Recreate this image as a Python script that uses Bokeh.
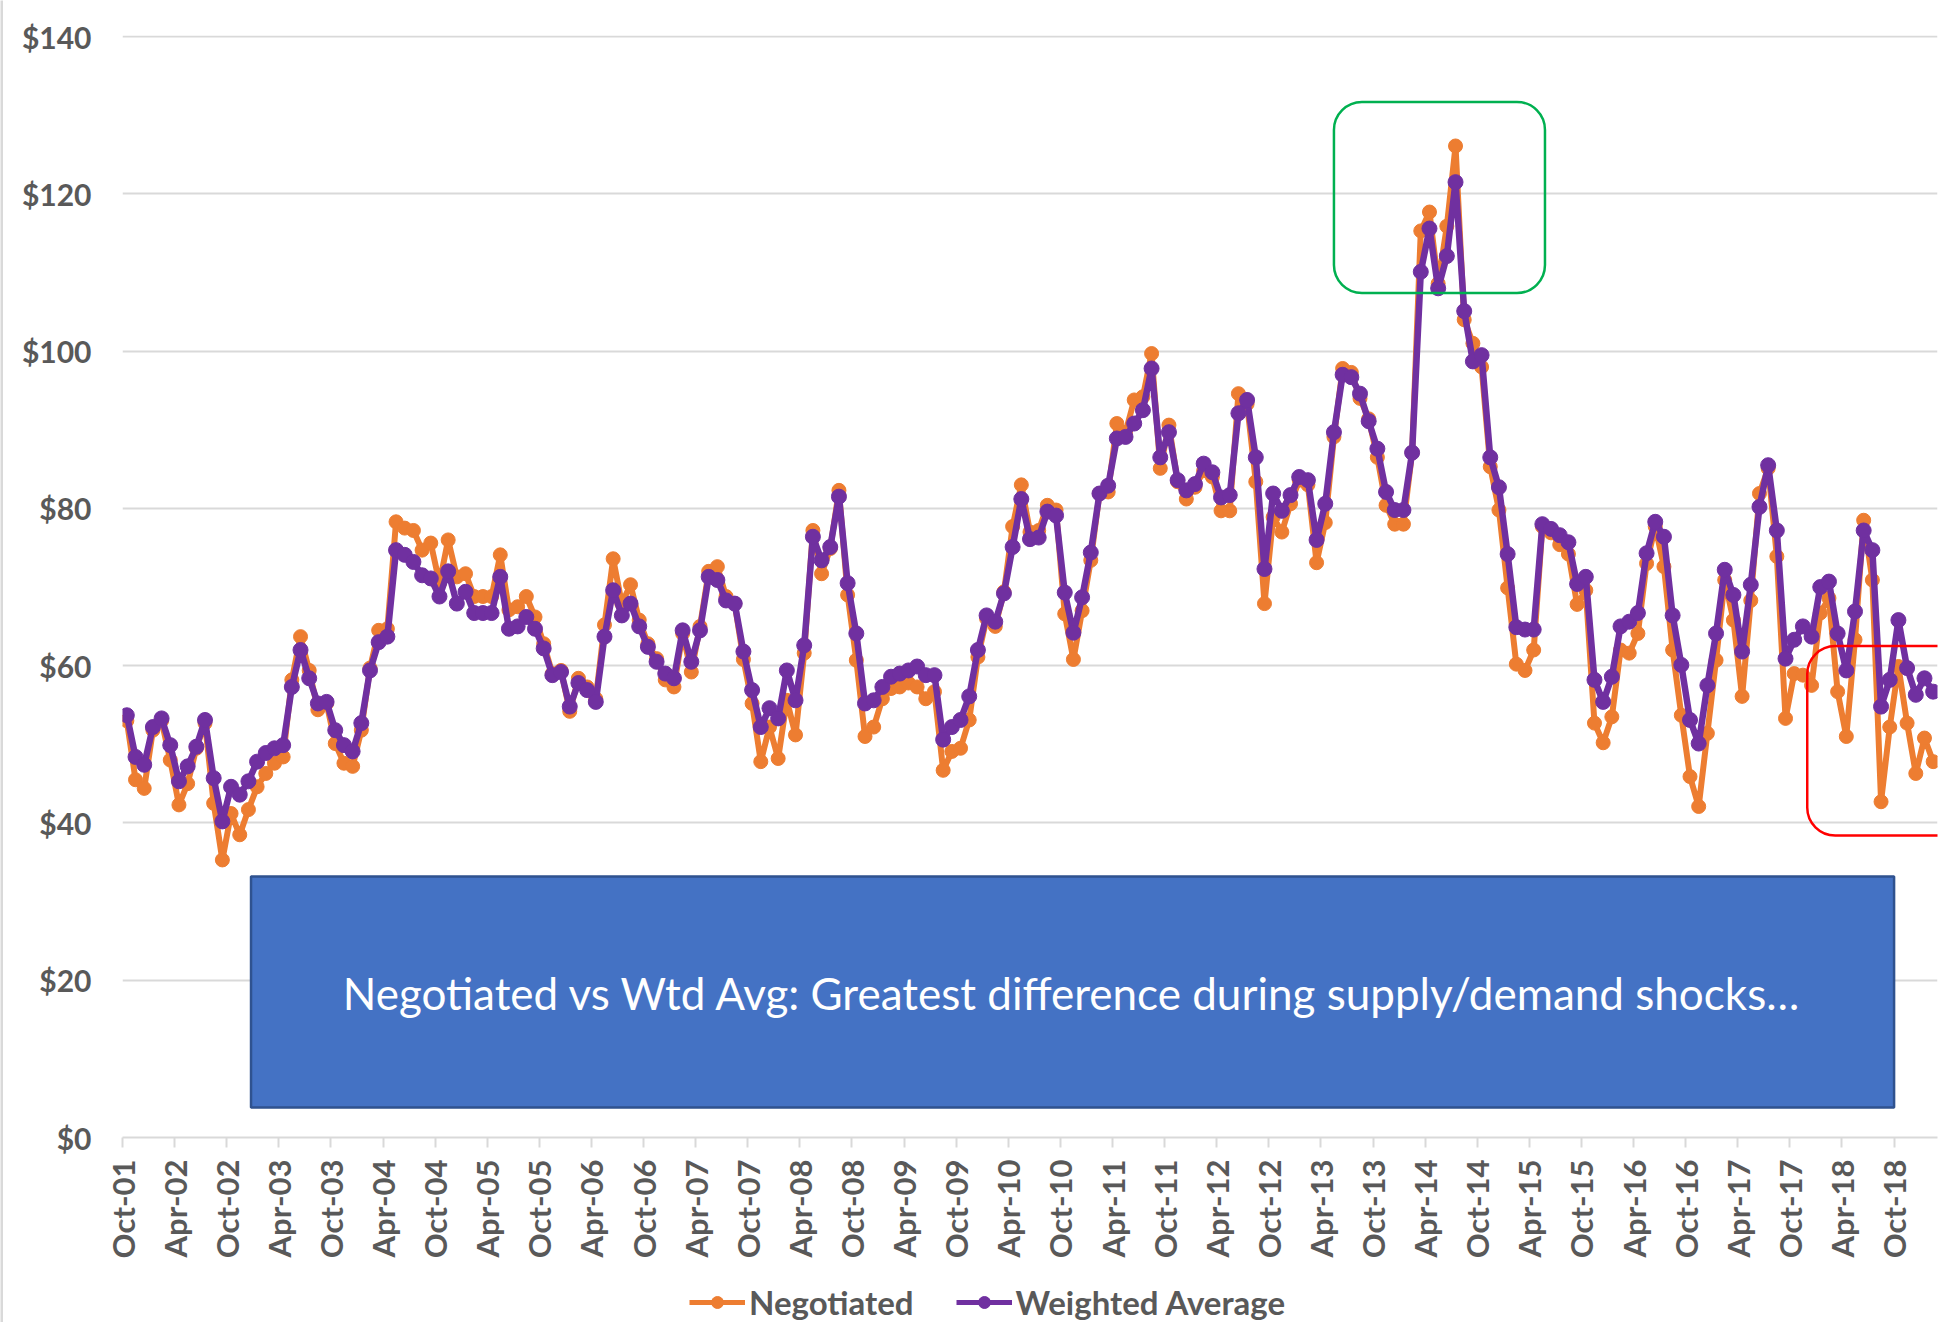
import math
from bokeh.plotting import figure
from bokeh.layouts import column, row
from bokeh.models import (FixedTicker, Legend, LegendItem, BoxAnnotation, Label, Range1d)
from bokeh.embed import file_html
from bokeh.resources import INLINE

# Monthly prices, Oct-2001 .. Feb-2019
negotiated = [
    53, 45.5, 44.4, 51.8, 53, 48, 42.3, 45, 49.5, 52.7,
    42.5, 35.3, 41.2, 38.5, 41.7, 44.6, 46.3, 47.6, 48.4, 58.2,
    63.7, 59.4, 54.4, 55.2, 50.1, 47.6, 47.2, 51.8, 59.7, 64.5,
    64.7, 78.3, 77.5, 77.2, 74.7, 75.6, 70.5, 76, 71.3, 71.7,
    68.8, 68.8, 68.8, 74.1, 67.1, 67.5, 68.8, 66.2, 62.8, 59,
    59.4, 54.2, 58.4, 57.3, 55.8, 65.2, 73.6, 67.9, 70.3, 65.8,
    62.8, 60.9, 58.2, 57.3, 64.1, 59.2, 65, 72, 72.6, 68.8,
    67.9, 60.8, 55.2, 47.8, 52.2, 48.2, 55.6, 51.2, 61.6, 77.2,
    71.7, 74.9, 82.3, 69, 60.7, 51, 52.2, 55.8, 57.1, 57.3,
    57.8, 57.3, 55.8, 56.7, 46.7, 49.1, 49.5, 53.1, 61.1, 66,
    65, 69.4, 77.7, 83, 77, 77.2, 80.4, 79.8, 66.6, 60.8,
    67, 73.4, 81.9, 82.1, 90.8, 89.7, 93.8, 94.2, 99.7, 85.1,
    90.6, 83.4, 81.2, 82.7, 84.8, 84, 79.7, 79.7, 94.6, 93.3,
    83.4, 67.9, 78.9, 77, 80.6, 83.6, 83, 73.1, 78.2, 89.1,
    97.8, 97.3, 94, 91.4, 86.5, 80.4, 78, 78, 87.1, 115.3,
    117.7, 108.6, 115.9, 126.1, 104, 101, 98, 85.3, 79.8, 69.9,
    60.2, 59.4, 62, 77.7, 76.9, 75.4, 74.2, 67.8, 69.6, 52.7,
    50.2, 53.5, 62, 61.6, 64.1, 73, 77.7, 72.6, 62, 53.7,
    45.9, 42.1, 51.4, 60.7, 70.9, 65.8, 56.1, 68.3, 81.9, 85.1,
    73.9, 53.3, 59, 58.8, 57.5, 66.7, 68.6, 56.7, 51, 63.3,
    78.5, 70.9, 42.7, 52.2, 59.9, 52.7, 46.3, 50.8, 47.8,
]

weighted_avg = [
    53.7, 48.4, 47.4, 52.2, 53.3, 49.9, 45.3, 47.2, 49.7, 53.1,
    45.7, 40.2, 44.6, 43.6, 45.3, 47.8, 48.9, 49.5, 49.9, 57.3,
    62, 58.4, 55.2, 55.4, 51.8, 49.9, 49.1, 52.7, 59.4, 63,
    63.7, 74.7, 74.1, 73.2, 71.5, 71.1, 68.8, 72, 67.9, 69.4,
    66.7, 66.7, 66.7, 71.3, 64.7, 65, 66.2, 64.7, 62.2, 58.8,
    59.2, 54.8, 57.8, 56.9, 55.4, 63.7, 69.6, 66.4, 67.9, 65,
    62.4, 60.5, 59, 58.4, 64.5, 60.5, 64.5, 71.3, 70.9, 68.3,
    67.9, 61.8, 56.9, 52.2, 54.6, 53.3, 59.4, 55.6, 62.6, 76.4,
    73.4, 75.1, 81.5, 70.5, 64.1, 55.2, 55.6, 57.3, 58.6, 59,
    59.4, 59.9, 58.8, 58.8, 50.6, 52.2, 53.1, 56.1, 62, 66.4,
    65.6, 69.2, 75.1, 81.2, 76.1, 76.3, 79.6, 79.1, 69.3, 64.2,
    68.7, 74.4, 81.9, 82.9, 88.9, 89.1, 90.8, 92.5, 97.8, 86.5,
    89.7, 83.6, 82.3, 83.1, 85.7, 84.6, 81.4, 81.7, 92.1, 93.8,
    86.5, 72.3, 81.9, 79.7, 81.7, 84, 83.6, 76, 80.6, 89.7,
    97, 96.7, 94.6, 91.1, 87.6, 82.1, 79.8, 79.8, 87.1, 110.1,
    115.6, 108, 112.1, 121.5, 105.1, 98.7, 99.5, 86.5, 82.7, 74.2,
    64.9, 64.6, 64.6, 78, 77.4, 76.6, 75.7, 70.4, 71.3, 58.2,
    55.4, 58.6, 65, 65.6, 66.7, 74.3, 78.3, 76.4, 66.4, 60.1,
    53.1, 50.1, 57.5, 64.1, 72.2, 69, 61.8, 70.3, 80.2, 85.5,
    77.2, 60.9, 63.3, 65, 63.7, 70, 70.7, 64.1, 59.4, 66.9,
    77.2, 74.7, 54.8, 58.2, 65.8, 59.7, 56.3, 58.4, 56.7,
]

tick_labels = [
    "Oct-01", "Apr-02", "Oct-02", "Apr-03", "Oct-03", "Apr-04", "Oct-04",
    "Apr-05", "Oct-05", "Apr-06", "Oct-06", "Apr-07", "Oct-07", "Apr-08",
    "Oct-08", "Apr-09", "Oct-09", "Apr-10", "Oct-10", "Apr-11", "Oct-11",
    "Apr-12", "Oct-12", "Apr-13", "Oct-13", "Apr-14", "Oct-14", "Apr-15",
    "Oct-15", "Apr-16", "Oct-16", "Apr-17", "Oct-17", "Apr-18", "Oct-18",
]
y_ticks = [0, 20, 40, 60, 80, 100, 120, 140]
y_tick_labels = ["$0", "$20", "$40", "$60", "$80", "$100", "$120", "$140"]
series_names = ["Negotiated", "Weighted Average"]
callout_text = "Negotiated vs Wtd Avg: Greatest difference during supply/demand shocks\u2026"

n = len(negotiated)
x = [i + 0.5 for i in range(n)]
x_ticks = [6 * k for k in range(len(tick_labels))]

FONT = "Lato"
GRAY_TXT = "#595959"
GRID = "#D9D9D9"
ORANGE = "#ED7D31"
PURPLE = "#7030A0"
W = 1951

p = figure(width=W, height=1262, output_backend="svg", toolbar_location=None,
           x_range=Range1d(0, n), y_range=Range1d(0, 140.15),
           min_border_left=119, min_border_right=17, min_border_top=35,
           min_border_bottom=125, outline_line_color=None)

# axes
xa = p.xaxis[0]
xa.ticker = FixedTicker(ticks=x_ticks)
xa.major_label_overrides = {t: l for t, l in zip(x_ticks, tick_labels)}
xa.major_label_orientation = math.pi / 2
xa.axis_line_color = GRID
xa.axis_line_width = 2
xa.major_tick_line_color = GRID
xa.major_tick_line_width = 2
xa.major_tick_out = 10
xa.major_tick_in = 0
xa.minor_tick_line_color = None
xa.major_label_standoff = 12
xa.major_label_text_font = FONT
xa.major_label_text_font_style = "bold"
xa.major_label_text_font_size = "31px"
xa.major_label_text_color = GRAY_TXT

ya = p.yaxis[0]
ya.ticker = FixedTicker(ticks=y_ticks)
ya.major_label_overrides = {t: l for t, l in zip(y_ticks, y_tick_labels)}
ya.axis_line_color = None
ya.major_tick_line_color = None
ya.minor_tick_line_color = None
ya.major_tick_out = 0
ya.major_label_standoff = 31
ya.major_label_text_font = FONT
ya.major_label_text_font_style = "bold"
ya.major_label_text_font_size = "30px"
ya.major_label_text_color = GRAY_TXT

p.xgrid.grid_line_color = None
p.ygrid.grid_line_color = GRID
p.ygrid.grid_line_width = 2

# series
p.line(x, negotiated, line_color=ORANGE, line_width=6)
p.scatter(x, negotiated, size=14, fill_color=ORANGE, line_color=ORANGE)
p.line(x, weighted_avg, line_color=PURPLE, line_width=6.5)
p.scatter(x, weighted_avg, size=15, fill_color=PURPLE, line_color=PURPLE)

# callout box
box = BoxAnnotation(left=14.8, right=204.0, bottom=3.8, top=33.2,
                    fill_color="#4472C4", fill_alpha=1.0,
                    line_color="#2F528F", line_alpha=1.0, line_width=2.5)
p.add_layout(box)
p.add_layout(Label(x=109.4, y=18.4, text=callout_text, text_align="center",
                   text_baseline="middle", text_color="white", text_font=FONT,
                   text_font_size="44px"))

green = BoxAnnotation(left=139.5, right=163.8, bottom=107.4, top=131.7,
                      fill_color=None, line_color="#00B050", line_alpha=1.0,
                      line_width=2.5, border_radius=28)
p.add_layout(green)
red = BoxAnnotation(left=194.0, right=216.0, bottom=38.4, top=62.5,
                    fill_color=None, line_color="#FF0000", line_alpha=1.0,
                    line_width=2.5, border_radius=28)
p.add_layout(red)

# legend strip below the chart (series drawn out of view; legend only)
lg = figure(width=W, height=60, output_backend="svg", toolbar_location=None,
            x_range=Range1d(-20, -10), y_range=Range1d(-20, -10),
            x_axis_location=None, y_axis_location=None,
            min_border_left=0, min_border_right=0, min_border_top=0,
            min_border_bottom=0, outline_line_color=None)
lg.xgrid.grid_line_color = None
lg.ygrid.grid_line_color = None
k1 = lg.line(x, negotiated, line_color=ORANGE, line_width=5)
k2 = lg.scatter(x, negotiated, size=12, fill_color=ORANGE, line_color=ORANGE)
k3 = lg.line(x, weighted_avg, line_color=PURPLE, line_width=5)
k4 = lg.scatter(x, weighted_avg, size=12, fill_color=PURPLE, line_color=PURPLE)
legend = Legend(items=[LegendItem(label=series_names[0], renderers=[k1, k2]),
                       LegendItem(label=series_names[1], renderers=[k3, k4])],
                orientation="horizontal", location=(567, 0),
                label_text_font=FONT, label_text_font_style="bold",
                label_text_font_size="33px",
                label_text_color=GRAY_TXT, glyph_width=56, glyph_height=30,
                label_standoff=4, spacing=42, padding=0, margin=0,
                border_line_color=None, background_fill_alpha=0)
lg.add_layout(legend)

# thin slide border at the far left
strip = figure(width=3, height=1322, output_backend="svg", toolbar_location=None,
               x_axis_location=None, y_axis_location=None,
               min_border_left=0, min_border_right=0, min_border_top=0,
               min_border_bottom=0, outline_line_color=None,
               background_fill_color=GRID, border_fill_color=GRID)
strip.xgrid.grid_line_color = None
strip.ygrid.grid_line_color = None

open("out.html", "w").write(file_html(row(strip, column(p, lg)), INLINE))
